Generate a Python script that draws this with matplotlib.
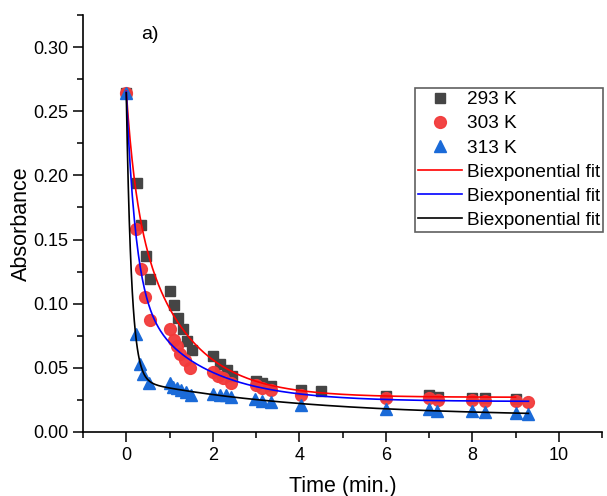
import matplotlib
matplotlib.use('Agg')
import matplotlib.pyplot as plt
import numpy as np
from matplotlib.ticker import MultipleLocator, FormatStrFormatter

plt.rcParams['font.family'] = ['Liberation Sans', 'DejaVu Sans']

# absorbance vs time
t_293 = [0, 0.25, 0.35, 0.45, 0.56, 1.02, 1.1, 1.2, 1.31, 1.4, 1.51, 2.0, 2.17, 2.32, 2.45,
         3.0, 3.15, 3.35, 4.05, 4.5, 6.0, 7.0, 7.2, 8.0, 8.3, 9.0]
a_293 = [0.264, 0.194, 0.161, 0.137, 0.119, 0.110, 0.099, 0.089, 0.080, 0.071, 0.064, 0.059,
         0.053, 0.048, 0.044, 0.040, 0.038, 0.036, 0.0325, 0.032, 0.028, 0.0286, 0.027,
         0.0265, 0.0265, 0.026]

t_303 = [0, 0.23, 0.33, 0.44, 0.55, 1.01, 1.11, 1.17, 1.24, 1.36, 1.48, 2.0, 2.12, 2.24, 2.43,
         3.01, 3.15, 3.34, 4.05, 6.0, 7.0, 7.2, 8.0, 8.3, 9.0, 9.3]
a_303 = [0.264, 0.158, 0.127, 0.105, 0.087, 0.080, 0.072, 0.067, 0.061, 0.056, 0.050, 0.047,
         0.044, 0.042, 0.038, 0.0365, 0.034, 0.0325, 0.0286, 0.0265, 0.0265, 0.0247, 0.0247,
         0.024, 0.024, 0.023]

t_313 = [0, 0.23, 0.31, 0.38, 0.52, 1.02, 1.08, 1.17, 1.27, 1.39, 1.5, 2.0, 2.16, 2.3, 2.43,
         2.98, 3.13, 3.34, 4.05, 6.0, 7.0, 7.18, 8.0, 8.3, 9.0, 9.3]
a_313 = [0.264, 0.076, 0.053, 0.0455, 0.038, 0.0385, 0.035, 0.034, 0.0325, 0.031, 0.029, 0.030,
         0.029, 0.0285, 0.027, 0.0255, 0.024, 0.0234, 0.0212, 0.0182, 0.0182, 0.016, 0.016,
         0.0154, 0.0148, 0.0138]

series_labels = ['293 K', '303 K', '313 K']
fit_label = 'Biexponential fit'


def biexp_fit(t, a):
    # y = A1*exp(-k1 t) + A2*exp(-k2 t) + y0, grid over rates, linear lstsq for amplitudes
    t = np.asarray(t, float)
    a = np.asarray(a, float)
    ks = np.logspace(-2, 1.6, 70)
    best = None
    for k1 in ks:
        for k2 in ks[ks < k1]:
            M = np.column_stack([np.exp(-k1 * t), np.exp(-k2 * t), np.ones_like(t)])
            coef = np.linalg.lstsq(M, a, rcond=None)[0]
            err = np.sum((M @ coef - a) ** 2)
            if best is None or err < best[0]:
                best = (err, k1, k2, coef)
    _, k1, k2, c = best
    tt = np.linspace(0, t.max(), 400)
    return tt, c[0] * np.exp(-k1 * tt) + c[1] * np.exp(-k2 * tt) + c[2]


fig = plt.figure(figsize=(6.07, 4.96), dpi=100)
ax = fig.add_axes([83 / 607, 1 - 432 / 496, 519 / 607, 417 / 496])

ax.plot(t_293, a_293, 's', color='#454545', ms=7.5, label=series_labels[0])
ax.plot(t_303, a_303, 'o', color='#f23a3a', ms=8.5, alpha=0.95, label=series_labels[1])
ax.plot(t_313, a_313, '^', color='#1a6ad8', ms=8.5, label=series_labels[2])

for t, a, c in [(t_293, a_293, '#ff0000'), (t_303, a_303, '#0000ff'), (t_313, a_313, 'black')]:
    tt, yy = biexp_fit(t, a)
    ax.plot(tt, yy, '-', color=c, lw=1.2, label=fit_label)

ax.set_xlim(-1, 11)
ax.set_ylim(0, 0.325)
ax.xaxis.set_major_locator(MultipleLocator(2))
ax.xaxis.set_minor_locator(MultipleLocator(1))
ax.yaxis.set_major_locator(MultipleLocator(0.05))
ax.yaxis.set_minor_locator(MultipleLocator(0.025))
ax.yaxis.set_major_formatter(FormatStrFormatter('%.2f'))
ax.tick_params(which='major', direction='out', length=7, width=1.1, labelsize=13)
ax.tick_params(which='minor', direction='out', length=4, width=1.1)

for side in ['top', 'right']:
    ax.spines[side].set_visible(False)
for side in ['left', 'bottom']:
    ax.spines[side].set_linewidth(1.2)

ax.set_xlabel('Time (min.)', fontsize=15.5, labelpad=9)
ax.set_ylabel('Absorbance', fontsize=15.5, labelpad=1)

ax.text(0.54, 0.31, 'a)', fontsize=14, ha='center', va='center')

leg = ax.legend(loc='upper left', bbox_to_anchor=(415 / 607, 1 - 88 / 496),
                bbox_transform=fig.transFigure, borderaxespad=0, fontsize=13.7,
                frameon=True, fancybox=False, edgecolor='#606060', framealpha=1,
                borderpad=0.15, labelspacing=0.36, handlelength=2.3, handletextpad=0.3)
leg.get_frame().set_linewidth(1.2)

fig.savefig('out.png', dpi=100)
